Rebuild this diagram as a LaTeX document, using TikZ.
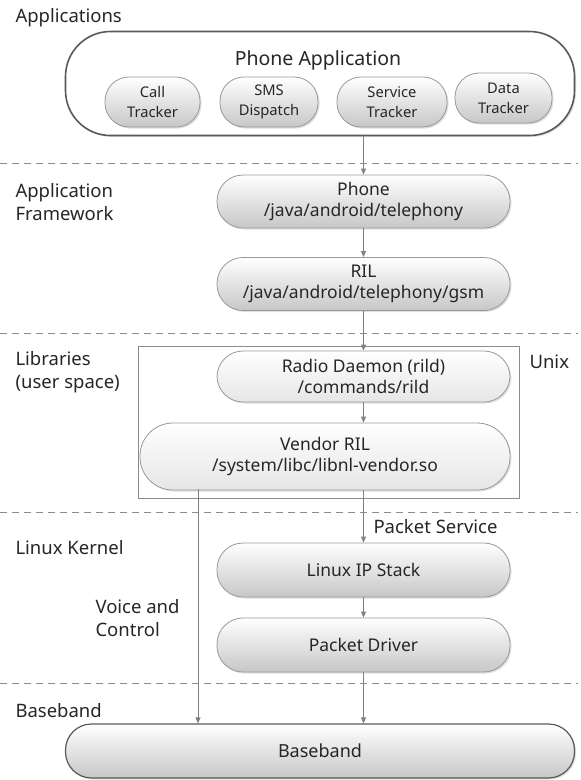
\documentclass[tikz,border=0pt]{standalone}
\usepackage{fontspec}
\setmainfont{Noto Sans}
\usetikzlibrary{arrows.meta,shadows}
\begin{document}
\begin{tikzpicture}[x=1pt,y=-1pt,
  lbl/.style={anchor=west,align=left,font=\fontsize{18.5}{23}\selectfont,text=black!85},
  pill/.style={draw=black!40,line width=0.8pt,rounded corners=26pt,
    top color=white,bottom color=black!22,
    drop shadow={shadow xshift=1.5pt,shadow yshift=-1.5pt,opacity=0.25},
    align=center,font=\fontsize{17.5}{21}\selectfont,text=black!85,inner sep=0pt},
  lpill/.style={pill,bottom color=black!10},
  small/.style={pill,rounded corners=24pt,font=\fontsize{14.7}{20}\selectfont},
  sep/.style={draw=black!45,dashed,dash pattern=on 7pt off 5pt,line width=1pt},
  arr/.style={draw=black!50,line width=0.8pt,-{Triangle[length=6pt,width=5pt]}}]
\useasboundingbox (0,0) rectangle (581,780);

% layer labels
\node[lbl] (lApp) at (12,18) {Applications};
\node[lbl] (lFw) at (12,202) {Application\\Framework};
\node[lbl] (lLib) at (12,372) {Libraries\\(user space)};
\node[lbl] (lKer) at (12,548) {Linux Kernel};
\node[lbl] (lBb) at (12,711) {Baseband};
\node[lbl] (lUnix) at (526,362) {Unix};
\node[lbl] (lPkt) at (370,527) {Packet Service};
\node[lbl] (lVoice) at (92,618) {Voice and\\Control};

% separators
\coordinate (s1a) at (0,163); \coordinate (s1b) at (578,163);
\coordinate (s2a) at (0,333); \coordinate (s2b) at (578,333);
\coordinate (s3a) at (0,512); \coordinate (s3b) at (578,512);
\coordinate (s4a) at (0,683); \coordinate (s4b) at (578,683);
\path[sep] (s1a) -- (s1b);
\path[sep] (s2a) -- (s2b);
\path[sep] (s3a) -- (s3b);
\path[sep] (s4a) -- (s4b);

% applications box
\node[draw=black!65,line width=1.6pt,rounded corners=45pt,fill=white,
  drop shadow={shadow xshift=1.5pt,shadow yshift=-1.5pt,opacity=0.25},
  minimum width=509pt,minimum height=104pt,inner sep=0pt] (apps) at (320,83.5) {};
\node[font=\fontsize{19.5}{23}\selectfont,text=black!85] (appt) at (318,60) {Phone Application};
\node[small,minimum width=95pt,minimum height=50pt] (call) at (152.5,102) {Call\\Tracker};
\node[small,minimum width=98pt,minimum height=50pt] (sms) at (269,102) {SMS\\Dispatch};
\node[small,minimum width=110pt,minimum height=50pt] (svc) at (392,102) {Service\\Tracker};
\node[small,minimum width=97pt,minimum height=50pt] (data) at (503.5,98) {Data\\Tracker};

% framework
\node[pill,minimum width=293pt,minimum height=53pt] (phone) at (363.5,201.5) {Phone\\/java/android/telephony};
\node[pill,minimum width=293pt,minimum height=53pt] (ril) at (363.5,284) {RIL\\/java/android/telephony/gsm};

% libraries
\node[draw=black!45,line width=0.8pt,minimum width=381pt,minimum height=152pt,inner sep=0pt] (unix) at (328.5,422) {};
\node[lpill,minimum width=293pt,minimum height=51pt] (rild) at (363.5,376.5) {Radio Daemon (rild)\\/commands/rild};
\node[lpill,rounded corners=33pt,minimum width=370pt,minimum height=67pt] (vril) at (325,456.5) {Vendor RIL\\/system/libc/libnl-vendor.so};

% kernel
\node[pill,minimum width=293pt,minimum height=54pt] (ipst) at (363.5,570) {Linux IP Stack};
\node[pill,minimum width=293pt,minimum height=54pt] (pdrv) at (363.5,645) {Packet Driver};

% baseband
\node[pill,draw=black!65,line width=1.2pt,minimum width=509pt,minimum height=54pt,font=\fontsize{18}{21}\selectfont] (bb) at (320,751) {Baseband};

% connectors
\coordinate (a0) at (363.5,136);
\draw[arr] (a0) -- (phone.north -| a0);
\draw[arr] (phone.south -| a0) -- (ril.north -| a0);
\draw[arr] (ril.south -| a0) -- (rild.north -| a0);
\draw[arr] (rild.south -| a0) -- (vril.north -| a0);
\draw[arr] (vril.south -| a0) -- (ipst.north -| a0);
\draw[arr] (ipst.south -| a0) -- (pdrv.north -| a0);
\draw[arr] (pdrv.south -| a0) -- (bb.north -| a0);
\coordinate (v0) at (198,489);
\draw[arr] (v0) -- (bb.north -| v0);
\end{tikzpicture}
\end{document}
